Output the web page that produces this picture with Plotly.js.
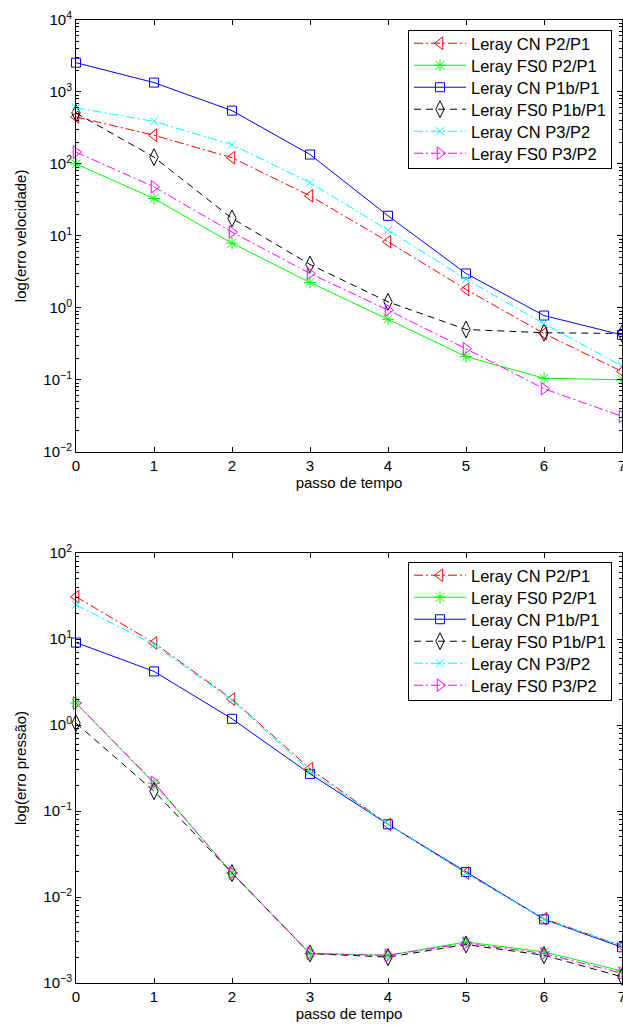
<!DOCTYPE html>
<html>
<head>
<meta charset="utf-8">
<script src="https://cdn.plot.ly/plotly-3.0.1.min.js"></script>
<style>
  html, body { margin: 0; padding: 0; background: #ffffff; }
  #chart { width: 623px; height: 1028px; }
</style>
</head>
<body>
<div id="chart"></div>
<script>
// ---- data ----
const steps = [0, 1, 2, 3, 4, 5, 6, 7];
const seriesNames = [
  "Leray CN P2/P1",
  "Leray FS0 P2/P1",
  "Leray CN P1b/P1",
  "Leray FS0 P1b/P1",
  "Leray CN P3/P2",
  "Leray FS0 P3/P2"
];

// velocity error (top plot)
const velCN_P2P1   = [450, 250, 122, 36, 8.3, 1.8, 0.44, 0.13];
const velFS0_P2P1  = [100, 33, 7.9, 2.25, 0.69, 0.21, 0.105, 0.10];
const velCN_P1bP1  = [2550, 1350, 550, 135, 19, 3.0, 0.78, 0.42];
const velFS0_P1bP1 = [510, 124, 17.5, 4.0, 1.21, 0.50, 0.45, 0.44];
const velCN_P3P2   = [600, 390, 185, 55, 12, 2.5, 0.60, 0.155];
const velFS0_P3P2  = [146, 48, 11.3, 3.0, 0.93, 0.27, 0.075, 0.031];

// pressure error (bottom plot)
const preCN_P2P1   = [31, 9.0, 2.0, 0.31, 0.070, 0.019, 0.0056, 0.0027];
const preFS0_P2P1  = [1.8, 0.21, 0.019, 0.0022, 0.0021, 0.0030, 0.0023, 0.00138];
const preCN_P1bP1  = [9.1, 4.2, 1.18, 0.27, 0.070, 0.0195, 0.0055, 0.0026];
const preFS0_P1bP1 = [1.05, 0.17, 0.019, 0.0022, 0.0020, 0.0028, 0.0021, 0.00118];
const preCN_P3P2   = [25, 8.6, 1.95, 0.29, 0.070, 0.019, 0.0055, 0.0027];
const preFS0_P3P2  = [1.8, 0.215, 0.019, 0.0022, 0.0021, 0.0029, 0.0022, 0.0013];

const velTickVals = [1e-2, 1e-1, 1e0, 1e1, 1e2, 1e3, 1e4];
const velTickText = ["10<sup>−2</sup>", "10<sup>−1</sup>", "10<sup>0</sup>", "10<sup>1</sup>", "10<sup>2</sup>", "10<sup>3</sup>", "10<sup>4</sup>"];
const preTickVals = [1e-3, 1e-2, 1e-1, 1e0, 1e1, 1e2];
const preTickText = ["10<sup>−3</sup>", "10<sup>−2</sup>", "10<sup>−1</sup>", "10<sup>0</sup>", "10<sup>1</sup>", "10<sup>2</sup>"];

// ---- styles ----
const styles = [
  { color: "#ff0000", dash: "9px,3px,2px,3px", symbol: "triangle-left-open", size: 11 },
  { color: "#00ff00", dash: "solid", symbol: "asterisk-open", size: 10 },
  { color: "#0000ff", dash: "solid", symbol: "square-open", size: 9 },
  { color: "#000000", dash: "7px,5px", symbol: "diamond-tall-open", size: 12 },
  { color: "#00ffff", dash: "9px,3px,2px,3px", symbol: "x-thin-open", size: 8 },
  { color: "#ff00ff", dash: "9px,3px,2px,3px", symbol: "triangle-right-open", size: 11 }
];

const velSeries = [velCN_P2P1, velFS0_P2P1, velCN_P1bP1, velFS0_P1bP1, velCN_P3P2, velFS0_P3P2];
const preSeries = [preCN_P2P1, preFS0_P2P1, preCN_P1bP1, preFS0_P1bP1, preCN_P3P2, preFS0_P3P2];

function mk(ys, i, xa, ya, leg) {
  const s = styles[i];
  return {
    x: steps, y: ys, name: seriesNames[i],
    xaxis: xa, yaxis: ya, legend: leg,
    type: "scatter", mode: "lines+markers",
    line: { color: s.color, width: 1, dash: s.dash },
    marker: { symbol: s.symbol, size: s.size, color: s.color, line: { color: s.color, width: 1 } },
    cliponaxis: false
  };
}

const traces = [];
velSeries.forEach((ys, i) => traces.push(mk(ys, i, "x", "y", "legend")));
preSeries.forEach((ys, i) => traces.push(mk(ys, i, "x2", "y2", "legend2")));

function minorVals(lo, hi) {
  const v = [];
  for (let e = lo; e < hi; e++) for (let d = 2; d <= 9; d++) v.push(d * Math.pow(10, e));
  return v;
}

const FONT = "Liberation Sans, Arial, Helvetica, sans-serif";
const H = 1028;

function xAxis(anchor) {
  return {
    anchor: anchor, domain: [0, 1], range: [0, 7], dtick: 1, tick0: 0,
    showline: true, linecolor: "#000", linewidth: 1, mirror: "ticks",
    ticks: "inside", ticklen: 5, tickcolor: "#000", showgrid: false, zeroline: false,
    ticklabeloverflow: "allow",
    tickfont: { family: FONT, size: 15, color: "#000" },
    title: { text: "passo de tempo", font: { family: FONT, size: 15, color: "#000" }, standoff: 2 }
  };
}
function yAxis(anchor, dom, lo, hi, tv, tt, title) {
  return {
    anchor: anchor, domain: dom, type: "log", range: [lo, hi],
    tickmode: "array", tickvals: tv, ticktext: tt,
    showline: true, linecolor: "#000", linewidth: 1, mirror: "ticks",
    ticks: "inside", ticklen: 5, tickcolor: "#000", showgrid: false, zeroline: false,
    minor: { ticks: "inside", ticklen: 3, tickcolor: "#000", tickmode: "array", tickvals: minorVals(lo, hi), showgrid: false },
    tickfont: { family: FONT, size: 15, color: "#000" },
    title: { text: title, font: { family: FONT, size: 15, color: "#000" }, standoff: 13 }
  };
}

const legendStyle = (ytop) => ({
  x: (612 - 76) / 546, xanchor: "right", y: 1 - ytop / H, yanchor: "top",
  bgcolor: "#ffffff", bordercolor: "#000000", borderwidth: 1,
  font: { family: FONT, size: 16.5, color: "#000" },
  itemwidth: 52, tracegroupgap: 0
});

const layout = {
  width: 623, height: 1028,
  margin: { l: 76, r: 1, t: 0, b: 0 },
  paper_bgcolor: "#ffffff", plot_bgcolor: "#ffffff",
  showlegend: true,
  font: { family: FONT, color: "#000" },
  xaxis: xAxis("y"),
  yaxis: yAxis("x", [1 - 451.7 / H, 1 - 20 / H], -2, 4, velTickVals, velTickText, "log(erro velocidade)"),
  xaxis2: xAxis("y2"),
  yaxis2: yAxis("x2", [1 - 983 / H, 1 - 553 / H], -3, 2, preTickVals, preTickText, "log(erro pressão)"),
  legend: legendStyle(30),
  legend2: legendStyle(562)
};

// tighten legend row spacing to match the reference (22px per entry)
function tightenLegends(gd) {
  const ROW = 22;
  ["legend", "legend2"].forEach(id => {
    const lg = gd.querySelector("g." + id);
    if (!lg) return;
    const items = lg.querySelectorAll("g.traces");
    if (!items.length) return;
    const m = /translate\(\s*([-\d.]+)[ ,]+([-\d.]+)\s*\)/.exec(items[0].getAttribute("transform") || "");
    if (!m) return;
    const x0 = parseFloat(m[1]);
    const y0 = parseFloat(m[2]) - 5;
    items.forEach((it, i) => it.setAttribute("transform", "translate(" + x0 + "," + (y0 + ROW * i) + ")"));
    const newH = ROW * items.length + 6;
    const bg = lg.querySelector("rect.bg");
    if (bg) bg.setAttribute("height", newH);
  });
}

Plotly.newPlot("chart", traces, layout, { staticPlot: true, displayModeBar: false }).then(tightenLegends);
</script>
</body>
</html>
